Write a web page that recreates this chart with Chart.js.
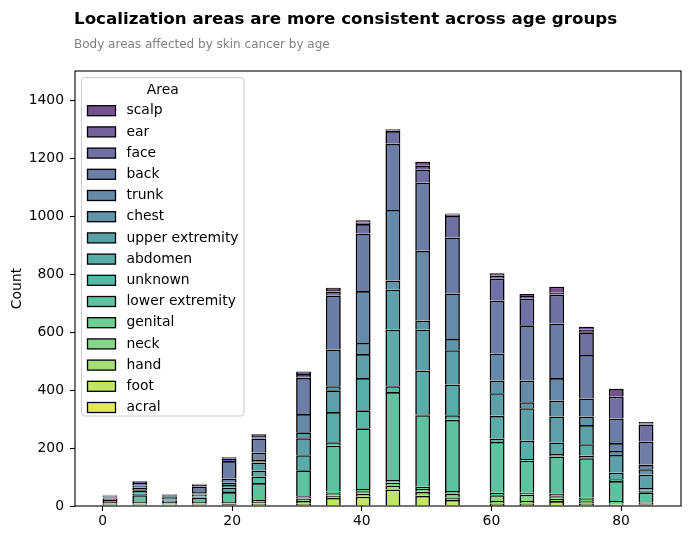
<!DOCTYPE html>
<html>
<head>
<meta charset="utf-8">
<title>Localization areas by age</title>
<script src="https://cdn.jsdelivr.net/npm/chart.js@4.4.1/dist/chart.umd.min.js"></script>
<style>
  html, body { margin: 0; padding: 0; background: #fff; }
</style>
</head>
<body>
<canvas id="myChart" width="690" height="539"></canvas>
<script>
// age groups (one bar each)
var ages = [0, 5, 10, 15, 20, 25, 30, 35, 40, 45, 50, 55, 60, 65, 70, 75, 80, 85];

// counts per localization area, one value per age group
var scalp   = [1, 1, 1, 3, 3, 6, 5, 8, 7, 3, 14, 4, 9, 7, 21, 9, 27, 6];
var ear     = [1, 2, 1, 2, 3, 4, 4, 5, 6, 3, 13, 5, 10, 9, 6, 10, 0, 3];
var face    = [2, 4, 2, 5, 8, 4, 13, 15, 32, 44, 45, 74, 75, 92, 100, 78, 75, 59];
var back    = [3, 8, 3, 19, 60, 49, 125, 185, 199, 228, 235, 193, 184, 190, 188, 150, 85, 80];
var trunk   = [3, 8, 4, 4, 15, 25, 63, 127, 179, 243, 241, 157, 92, 75, 78, 62, 27, 15];
var chest   = [3, 9, 8, 4, 8, 9, 20, 14, 38, 32, 31, 39, 44, 21, 54, 30, 14, 19];
var upperExtremity = [5, 11, 4, 8, 9, 28, 59, 75, 83, 138, 141, 118, 78, 112, 90, 66, 61, 46];
var abdomen = [7, 6, 4, 3, 11, 20, 52, 104, 111, 195, 151, 106, 78, 63, 40, 40, 23, 9];
var unknown = [0, 0, 0, 0, 4, 23, 0, 12, 62, 20, 3, 16, 12, 6, 8, 8, 6, 6];
var lowerExtremity = [6, 23, 6, 15, 34, 58, 89, 158, 209, 303, 247, 245, 175, 110, 128, 136, 69, 35];
var genital = [0, 0, 0, 0, 0, 0, 8, 6, 8, 10, 7, 9, 9, 7, 9, 6, 0, 0];
var neck    = [4, 6, 3, 6, 5, 7, 9, 9, 9, 9, 10, 14, 20, 22, 9, 7, 8, 5];
var hand    = [2, 3, 2, 3, 3, 6, 9, 7, 10, 14, 14, 8, 8, 8, 8, 7, 5, 3];
var foot    = [2, 5, 3, 5, 6, 8, 8, 28, 32, 57, 35, 21, 8, 9, 17, 9, 4, 4];
var acral   = [0, 0, 0, 0, 0, 0, 0, 0, 0, 0, 0, 0, 1, 0, 0, 0, 0, 0];

// legend order (top of the stack first)
var areaNames = ['scalp', 'ear', 'face', 'back', 'trunk', 'chest', 'upper extremity',
  'abdomen', 'unknown', 'lower extremity', 'genital', 'neck', 'hand', 'foot', 'acral'];
var areaCounts = [scalp, ear, face, back, trunk, chest, upperExtremity,
  abdomen, unknown, lowerExtremity, genital, neck, hand, foot, acral];

var xTicks = [0, 20, 40, 60, 80];
var yTicks = [0, 200, 400, 600, 800, 1000, 1200, 1400];

var titleText = 'Localization areas are more consistent across age groups';
var subtitleText = 'Body areas affected by skin cancer by age';
var yLabel = 'Count';
var legendTitle = 'Area';

// viridis, 15 steps, same order as areaNames
var palette = [
  [72, 23, 105], [71, 44, 122], [66, 64, 133], [59, 82, 139], [51, 99, 141],
  [44, 114, 142], [38, 130, 142], [33, 145, 140], [31, 160, 136], [40, 174, 128],
  [63, 188, 115], [94, 201, 98], [132, 212, 75], [173, 220, 48], [216, 226, 25]
];

var FONT = '"DejaVu Sans", "Liberation Sans", sans-serif';

// histogram bins: 37 equal bins over 0..85
var nBins = 37;
var binWidth = (85 - 0) / nBins;
function binCenter(age) {
  var i = Math.min(Math.floor(age / binWidth + 1e-9), nBins - 1);
  return (i + 0.5) * binWidth;
}

function rgba(c, a) {
  return 'rgba(' + c[0] + ',' + c[1] + ',' + c[2] + ',' + a + ')';
}

// Chart.js stacks the first dataset at the bottom, so go from acral upwards
var datasets = [];
for (var k = areaNames.length - 1; k >= 0; k--) {
  datasets.push({
    label: areaNames[k],
    data: ages.map(function (a, i) { return { x: binCenter(a), y: areaCounts[k][i] }; }),
    backgroundColor: rgba(palette[k], 0.75),
    borderColor: '#000',
    borderWidth: 1.6,
    barPercentage: 0.5,
    categoryPercentage: 1.0
  });
}

var decor = {
  id: 'decor',
  afterDraw: function (chart) {
    var ctx = chart.ctx;
    var a = chart.chartArea;
    ctx.save();

    // axes frame
    ctx.strokeStyle = '#000';
    ctx.lineWidth = 1.1;
    ctx.strokeRect(a.left, a.top, a.right - a.left, a.bottom - a.top);

    // title + subtitle
    ctx.textAlign = 'left';
    ctx.textBaseline = 'alphabetic';
    ctx.fillStyle = '#000';
    ctx.font = 'bold 16.7px ' + FONT;
    ctx.fillText(titleText, 74, 23.5);
    ctx.fillStyle = '#808080';
    ctx.font = '12px ' + FONT;
    ctx.fillText(subtitleText, 74, 47.5);

    // legend box
    var lx = 81.5, ly = 77.5, lw = 162.5, lh = 338.5;
    ctx.beginPath();
    ctx.roundRect(lx, ly, lw, lh, 3);
    ctx.fillStyle = 'rgba(255,255,255,0.8)';
    ctx.fill();
    ctx.strokeStyle = '#cccccc';
    ctx.lineWidth = 1;
    ctx.stroke();

    ctx.fillStyle = '#000';
    ctx.font = '13.9px ' + FONT;
    ctx.textAlign = 'center';
    ctx.textBaseline = 'middle';
    ctx.fillText(legendTitle, lx + lw / 2, 90);

    ctx.textAlign = 'left';
    for (var i = 0; i < areaNames.length; i++) {
      var ds = chart.data.datasets.find(function (d) { return d.label === areaNames[i]; });
      var cy = 110.7 + 21.2 * i;
      ctx.fillStyle = ds.backgroundColor;
      ctx.fillRect(87.5, cy - 5, 28, 10);
      ctx.strokeStyle = '#000';
      ctx.lineWidth = 1.3;
      ctx.strokeRect(87.5, cy - 5, 28, 10);
      ctx.fillStyle = '#000';
      ctx.fillText(ds.label, 126.5, cy);
    }
    ctx.restore();
  }
};

var ctx = document.getElementById('myChart').getContext('2d');
var myChart = new Chart(ctx, {
  type: 'bar',
  data: { datasets: datasets },
  options: {
    responsive: false,
    animation: false,
    devicePixelRatio: window.devicePixelRatio || 1,
    layout: { padding: { top: 71, right: 9, left: 0, bottom: 0 } },
    plugins: {
      legend: { display: false },
      title: { display: false },
      tooltip: { enabled: false }
    },
    scales: {
      x: {
        type: 'linear',
        stacked: true,
        offset: false,
        min: -4.25,
        max: 89.25,
        afterBuildTicks: function (s) { s.ticks = xTicks.map(function (v) { return { value: v }; }); },
        afterFit: function (s) { s.height = 33; },
        ticks: {
          color: '#000', font: { size: 13.9, family: FONT }, padding: 2, maxRotation: 0, autoSkip: false,
          callback: function (v) { return String(v); }
        },
        grid: { offset: false, drawOnChartArea: false, tickLength: 5, tickColor: '#000', tickWidth: 1.1 },
        border: { display: false }
      },
      y: {
        stacked: true,
        min: 0,
        max: 1500,
        afterBuildTicks: function (s) { s.ticks = yTicks.map(function (v) { return { value: v }; }); },
        afterFit: function (s) { s.width = 75; },
        ticks: {
          color: '#000', font: { size: 13.9, family: FONT }, padding: 6,
          callback: function (v) { return String(v); }
        },
        grid: { drawOnChartArea: false, tickLength: 5, tickColor: '#000', tickWidth: 1.1 },
        border: { display: false },
        title: {
          display: true,
          text: yLabel,
          color: '#000',
          font: { size: 13.9, family: FONT },
          padding: { top: 9, bottom: 0 }
        }
      }
    }
  },
  plugins: [decor]
});
</script>
</body>
</html>
